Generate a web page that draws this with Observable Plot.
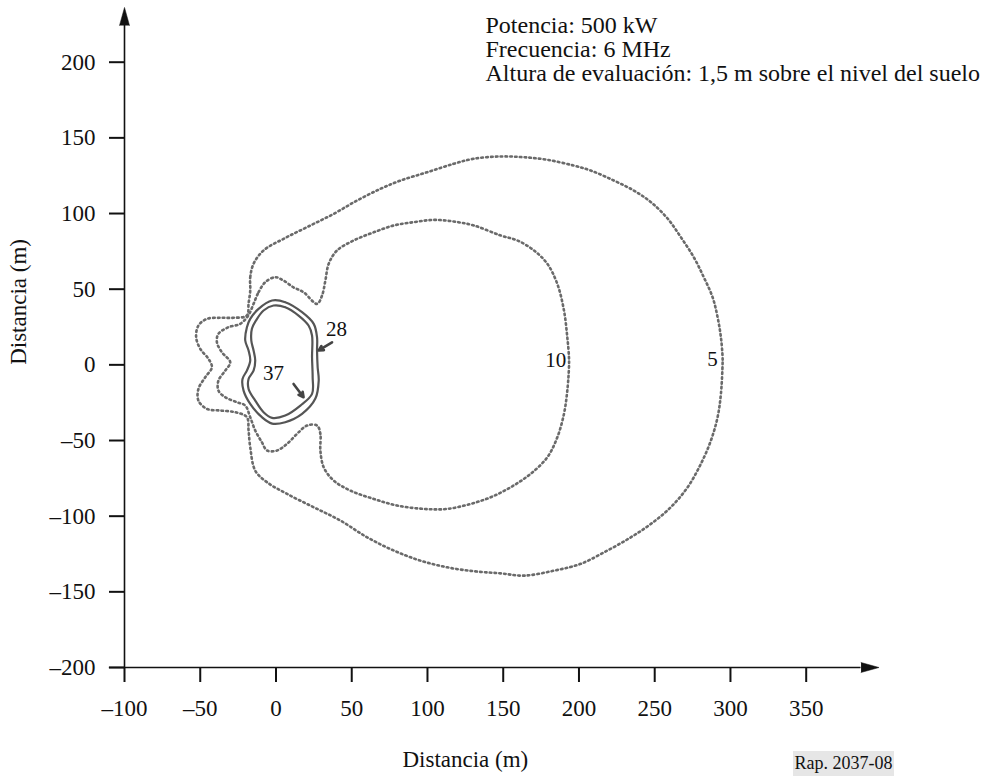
<!DOCTYPE html>
<html><head><meta charset="utf-8">
<script src="https://cdn.jsdelivr.net/npm/d3@7"></script>
<script src="https://cdn.jsdelivr.net/npm/@observablehq/plot@0.6"></script>
<style>
body{margin:0;background:#fff;}
#wrap{position:relative;width:986px;height:776px;overflow:hidden;}
#code{position:absolute;left:793px;top:751px;width:101px;height:25px;background:#e6e6e6;font-family:"Liberation Serif",serif;font-size:18px;line-height:25px;text-align:center;color:#111;}
</style></head>
<body><div id="wrap"><div id="chart"></div><span id="code">Rap. 2037-08</span></div>
<script>
// Contour 5 (dotted, outer)
const contour5 = [
 [-17.0,49.1],[-17.0,57.9],[-14.8,66.8],[-8.2,75.6],[5.0,83.3],[20.5,91.0],[38.1,99.8],[53.5,108.6],
 [68.9,116.3],[82.2,121.8],[99.8,127.3],[117.4,132.9],[130.6,136.2],[148.3,137.7],[163.5,137.2],[179.1,135.5],
 [196.5,131.7],[207.8,128.4],[223.0,121.8],[236.2,115.2],[247.5,107.5],[258.5,96.7],[267.3,84.3],[275.8,71.1],
 [282.4,57.9],[288.2,44.7],[291.5,31.5],[293.7,18.2],[294.8,5.0],[294.8,0.7],[293.7,-19.2],[291.5,-34.6],
 [287.1,-50.0],[280.5,-65.4],[271.7,-80.9],[260.6,-94.1],[247.5,-105.1],[234.2,-114.0],[218.8,-122.7],[201.1,-131.5],
 [183.5,-136.0],[163.7,-139.3],[148.3,-137.8],[130.6,-136.4],[113.0,-133.8],[95.4,-129.4],[77.7,-122.7],[60.2,-114.0],
 [42.5,-102.9],[24.9,-94.1],[7.3,-85.3],[-5.9,-77.6],[-13.7,-69.9],[-17.0,-54.5],[-18.1,-43.4],[-19.2,-34.6],
 [-26.9,-31.3],[-36.8,-30.2],[-45.6,-29.1],[-51.2,-23.6],[-51.2,-15.9],[-46.7,-8.2],[-42.3,-1.6],[-44.6,4.0],
 [-50.0,10.6],[-52.7,18.2],[-51.2,26.0],[-45.6,30.4],[-36.8,31.1],[-28.0,31.1],[-19.2,32.6],[-18.1,40.5]
];
// Contour 10 (dotted, inner)
const contour10 = [
 [-14.8,40.3],[-11.5,48.0],[-7.1,54.6],[-0.5,57.9],[5.0,55.7],[11.4,51.3],[18.2,48.0],[27.1,40.3],
 [30.4,45.8],[32.6,55.7],[34.8,66.8],[40.3,75.6],[51.3,82.2],[64.5,87.6],[77.7,92.1],[91.0,94.3],
 [104.2,95.8],[117.4,94.7],[130.6,92.1],[148.3,85.5],[159.3,82.2],[170.3,75.6],[179.1,66.8],[185.7,53.5],
 [190.1,35.9],[192.3,18.2],[193.4,5.0],[193.4,-1.6],[192.3,-17.0],[190.1,-32.4],[185.7,-47.9],[179.1,-61.1],
 [168.1,-72.0],[154.9,-80.9],[141.7,-87.5],[128.4,-91.9],[113.0,-95.2],[97.6,-95.2],[80.0,-93.0],[64.5,-88.6],
 [49.1,-83.1],[38.1,-76.5],[31.5,-67.7],[29.3,-56.6],[29.3,-45.6],[27.1,-40.1],[20.5,-40.1],[13.9,-45.6],
 [7.3,-52.2],[0.7,-56.6],[-5.9,-56.6],[-9.3,-51.2],[-13.7,-43.4],[-17.0,-34.6],[-20.3,-26.9],[-25.8,-24.7],
 [-33.5,-21.4],[-38.0,-17.0],[-38.0,-10.4],[-33.5,-3.8],[-30.2,1.7],[-35.7,8.3],[-39.0,14.9],[-38.0,20.5],
 [-31.3,24.9],[-23.6,27.1],[-18.3,32.6]
];
// Contour 28 (solid, outer)
const contour28 = [
 [-2.6,42.5],[6.1,41.4],[17.2,34.8],[24.9,27.1],[27.1,18.2],[27.1,9.5],[27.5,-1.6],[28.2,-10.4],
 [26.0,-22.3],[17.2,-32.4],[6.1,-37.9],[-2.6,-38.8],[-9.3,-34.6],[-17.0,-25.8],[-21.4,-17.0],[-22.1,-9.3],
 [-19.2,-3.8],[-17.0,2.8],[-18.1,9.5],[-20.3,16.1],[-19.2,24.9],[-17.0,30.4],[-11.5,37.0]
];
// Contour 37 (solid, inner)
const contour37 = [
 [-1.6,39.2],[6.1,38.1],[14.9,32.6],[21.5,26.0],[23.8,19.4],[23.8,5.0],[24.2,-8.2],[23.8,-19.2],
 [16.1,-26.9],[6.1,-33.5],[-2.6,-35.0],[-8.2,-31.3],[-13.7,-23.6],[-18.1,-15.9],[-18.1,-9.3],[-14.8,-3.8],
 [-13.7,2.8],[-14.8,9.5],[-16.3,16.1],[-15.9,23.8],[-13.2,29.3],[-8.2,35.9]
];
const levelNames = ["5", "10", "28", "37"];
const levelLabelX = [288.2, 184.6, 39.9, -1.6];
const levelLabelY = [3.5, 2.8, 23.3, -5.4];
// Pointer arrows for 28 and 37: [x1, y1, x2, y2]
const pointerArrows = [[37.0, 14.9, 28.2, 9.5], [11.6, -12.6, 18.2, -21.4]];

const xTicks = [-100, -50, 0, 50, 100, 150, 200, 250, 300, 350];
const xTickLabels = ["–100", "–50", "0", "50", "100", "150", "200", "250", "300", "350"];
const yTicks = [-200, -150, -100, -50, 0, 50, 100, 150, 200];
const yTickLabels = ["–200", "–150", "–100", "–50", "0", "50", "100", "150", "200"];
const xAxisExtent = [-110, 386.2, 398];   // line start, arrow base, arrow tip
const yAxisExtent = [-200, 224.3, 236];
const xTitle = "Distancia (m)";
const yTitle = "Distancia (m)";
const notes = ["Potencia: 500 kW", "Frecuencia: 6 MHz", "Altura de evaluación: 1,5 m sobre el nivel del suelo"];

const dotted = [
  ...contour5.map(([x, y]) => ({x, y, level: "5"})),
  ...contour10.map(([x, y]) => ({x, y, level: "10"}))
];
const solid = [
  ...contour28.map(([x, y]) => ({x, y, level: "28"})),
  ...contour37.map(([x, y]) => ({x, y, level: "37"}))
];
const labels = levelNames.map((t, i) => ({t, x: levelLabelX[i], y: levelLabelY[i]}));
const arrows = pointerArrows.map(([x1, y1, x2, y2]) => ({x1, y1, x2, y2}));
const FONT = "Liberation Serif, Times New Roman, serif";

const chart = Plot.plot({
  width: 986,
  height: 776,
  marginLeft: 124,
  marginRight: 180.3,
  marginTop: 61.7,
  marginBottom: 109,
  x: {domain: [-100, 350]},
  y: {domain: [-200, 200]},
  style: {fontFamily: FONT, fontSize: "23px", color: "#111", background: "#fff", overflow: "visible"},
  marks: [
    Plot.line(dotted, {x: "x", y: "y", z: "level", curve: "catmull-rom-closed", stroke: "#6a6a6a", strokeWidth: 2.6, strokeDasharray: "1.6 3.2"}),
    Plot.line(solid, {x: "x", y: "y", z: "level", curve: "catmull-rom-closed", stroke: "#555", strokeWidth: 2.2}),
    Plot.arrow(arrows, {x1: "x1", y1: "y1", x2: "x2", y2: "y2", stroke: "#444", strokeWidth: 2.6, headLength: 8, headAngle: 55}),
    Plot.text(labels, {x: "x", y: "y", text: "t", fontSize: 21, fill: "#111"}),
    Plot.ruleY([yAxisExtent[0]], {x1: xAxisExtent[0], x2: xAxisExtent[1], stroke: "#111", strokeWidth: 1.6}),
    Plot.ruleX([xTicks[0]], {y1: yAxisExtent[0], y2: yAxisExtent[1], stroke: "#111", strokeWidth: 1.6}),
    Plot.vector([0], {x: xAxisExtent[1], y: yAxisExtent[0], length: 18, r: 5, rotate: 90, shape: "spike", anchor: "start", fill: "#111", stroke: "#111", strokeWidth: 0.5}),
    Plot.vector([0], {x: xTicks[0], y: yAxisExtent[1], length: 18, r: 5, rotate: 0, shape: "spike", anchor: "start", fill: "#111", stroke: "#111", strokeWidth: 0.5}),
    Plot.axisX(xTicks, {tickSize: 15, tickPadding: 17, strokeWidth: 2, tickFormat: d => xTickLabels[xTicks.indexOf(d)], fontSize: 23, label: null}),
    Plot.axisY(yTicks, {tickSize: 15, tickPadding: 14, strokeWidth: 2, tickFormat: d => yTickLabels[yTicks.indexOf(d)], fontSize: 23, label: null}),
    Plot.text([xTitle], {frameAnchor: "bottom", dy: 92.6, fontSize: 23, lineAnchor: "middle"}),
    Plot.text([yTitle], {frameAnchor: "left", dx: -106, rotate: -90, fontSize: 23, lineAnchor: "middle"}),
    Plot.text([notes.join("\n")], {frameAnchor: "top-left", dx: 361, dy: -46, textAnchor: "start", lineAnchor: "top", lineHeight: 1.0, fontSize: 24})
  ]
});
document.getElementById("chart").appendChild(chart);
</script>
</body></html>
